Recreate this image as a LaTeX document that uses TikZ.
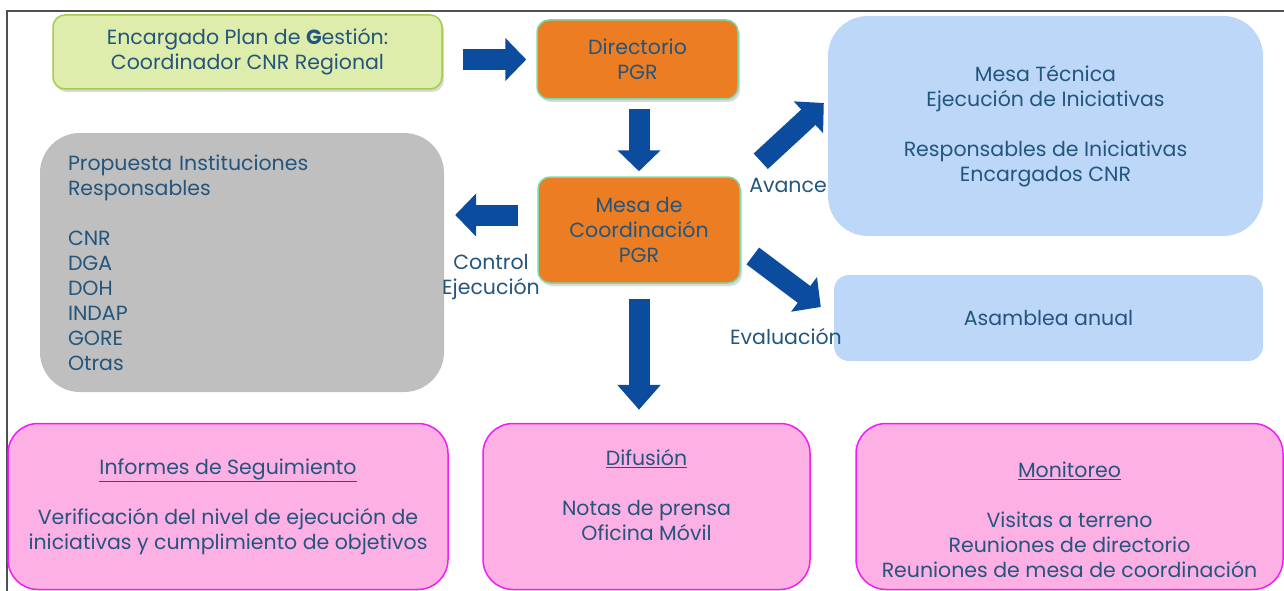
\documentclass[tikz,border=0pt]{standalone}
\usepackage{fontspec}
\setmainfont{Poppins}
\usetikzlibrary{arrows.meta,shadows}

\definecolor{txtblue}{RGB}{35,85,125}
\definecolor{limefill}{RGB}{222,236,172}
\definecolor{limeline}{RGB}{162,204,74}
\definecolor{orangefill}{RGB}{237,125,34}
\definecolor{mintline}{RGB}{125,216,168}
\definecolor{grayfill}{RGB}{191,191,191}
\definecolor{skyfill}{RGB}{189,215,248}
\definecolor{pinkfill}{RGB}{253,176,227}
\definecolor{pinkline}{RGB}{240,30,240}
\definecolor{arrowblue}{RGB}{12,76,158}
\definecolor{framegray}{RGB}{80,80,80}

\tikzset{
  box/.style={rounded corners=#1, align=center, inner sep=0pt},
  shade box/.style={drop shadow={shadow xshift=2pt,shadow yshift=-3pt,opacity=0.3}},
  barrow/.style={draw=arrowblue, line width=21pt, -{Triangle[width=42pt,length=#1]}},
  barrow/.default=21pt
}

\begin{document}
\begin{tikzpicture}[x=1pt,y=-1pt,
  every node/.style={font=\fontsize{20.5}{25}\selectfont, text=txtblue}]
\useasboundingbox (0,0) rectangle (1284,591);
% marco
\draw[framegray, line width=1.5pt] (7,591) -- (7,11) -- (1284,11);

% fila superior
\node[box=12pt, shade box, fill=limefill, draw=limeline, line width=1.5pt,
  minimum width=389pt, minimum height=74pt] (enc) at (247.5,52)
  {Encargado Plan de \textbf{G}estión:\\Coordinador CNR Regional};
\node[box=12pt, shade box, fill=orangefill, draw=mintline, line width=1.5pt,
  minimum width=201pt, minimum height=79pt] (dir) at (637.5,59.5)
  {Directorio\\PGR};
\node[box=12pt, shade box, fill=orangefill, draw=mintline, line width=1.5pt,
  minimum width=202pt, minimum height=106pt] (mesa) at (639,230)
  {Mesa de\\Coordinación\\PGR};

% instituciones
\node[box=40pt, fill=grayfill, align=left, text width=348pt,
  minimum width=404pt, minimum height=259pt] (inst) at (242,262.5)
  {Propuesta Instituciones\\Responsables\\[25pt]CNR\\DGA\\DOH\\INDAP\\GORE\\Otras};

% lado derecho
\node[box=40pt, fill=skyfill, minimum width=435pt, minimum height=220pt] (tec) at (1045.5,126)
  {Mesa Técnica\\Ejecución de Iniciativas\\[25pt]Responsables de Iniciativas\\Encargados CNR};
\node[box=15pt, fill=skyfill, minimum width=429pt, minimum height=86pt] (asam) at (1048.5,318)
  {Asamblea anual};

% fila inferior
\node[box=30pt, fill=pinkfill, draw=pinkline, line width=1.5pt,
  minimum width=440pt, minimum height=166pt] (inf) at (228,506.5)
  {\underline{Informes de Seguimiento}\\[25pt]Verificación del nivel de ejecución de\\iniciativas y cumplimiento de objetivos};
\node[box=30pt, fill=pinkfill, draw=pinkline, line width=1.5pt,
  minimum width=327pt, minimum height=166pt] (dif) at (646.5,506.5) {};
\node[align=center] (diftxt) at (646.5,495)
  {\underline{Difusión}\\[25pt]Notas de prensa\\Oficina Móvil};
\node[box=30pt, fill=pinkfill, draw=pinkline, line width=1.5pt,
  minimum width=427pt, minimum height=166pt] (mon) at (1069.5,506.5) {};
\node[align=center] (montxt) at (1069.5,519.5)
  {\underline{Monitoreo}\\[25pt]Visitas a terreno\\Reuniones de directorio\\Reuniones de mesa de coordinación};

% flechas
\draw[barrow, shorten <=20pt, shorten >=10pt] (enc.east |- dir.west) -- (dir.west);
\draw[barrow, shorten <=9pt, shorten >=5pt] (mesa.north |- dir.south) -- (mesa.north);
\draw[barrow, shorten <=19pt, shorten >=11pt] ([yshift=15pt]mesa.west) -- ([yshift=15pt]mesa.west -| inst.east);
\draw[barrow=25pt, shorten <=15pt, shorten >=13pt] (mesa.south) -- (mesa.south |- dif.north);
\draw[barrow] ([shift={(20,-15)}]mesa.north east) -- ([shift={(-4,-23)}]tec.west);
\draw[barrow] ([shift={(12,26)}]mesa.east) -- ([shift={(-13,-11)}]asam.west);

% etiquetas
\node (avance) at (788,185) {Avance};
\node (evaluacion) at (786,337) {Evaluación};
\node[align=center] (control) at (491,277.5) {Control\\Ejecución};
\end{tikzpicture}
\end{document}
